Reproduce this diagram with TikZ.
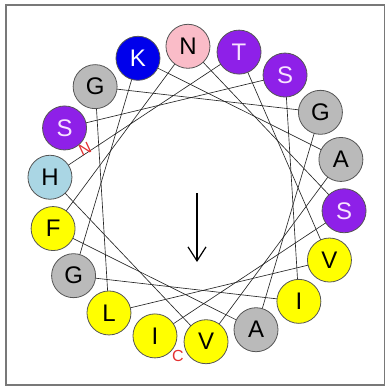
\documentclass[tikz,border=0pt]{standalone}
\usepackage{fontspec}
\setmainfont{Liberation Sans}
\usetikzlibrary{arrows.meta,backgrounds,calc}
\definecolor{respurple}{RGB}{142,32,232}
\definecolor{resblue}{RGB}{0,0,235}
\definecolor{respink}{RGB}{250,188,200}
\definecolor{reslightblue}{RGB}{170,214,228}
\definecolor{resyellow}{RGB}{255,255,0}
\definecolor{resgray}{RGB}{186,186,186}
\definecolor{rimgray}{RGB}{85,85,85}
\definecolor{framegray}{RGB}{120,120,120}
\definecolor{termred}{RGB}{228,48,48}
\definecolor{paletext}{RGB}{248,228,255}
\tikzset{
  x=1pt, y=1pt,
  residue/.style={circle, draw=rimgray, line width=0.8pt, minimum size=44pt,
    inner sep=0pt, font=\fontsize{24}{24}\selectfont},
  pur/.style={residue, fill=respurple, text=paletext},
  blu/.style={residue, fill=resblue, text=white},
  pnk/.style={residue, fill=respink, text=black},
  lbl/.style={residue, fill=reslightblue, text=black},
  yel/.style={residue, fill=resyellow, text=black},
  gry/.style={residue, fill=resgray, text=black},
  bond/.style={draw=black!85, line width=0.65pt},
  terminal/.style={text=termred, inner sep=0pt, font=\fontsize{16}{16}\selectfont},
  moment/.style={line width=1.2pt, -{Straight Barb[length=14pt,width=18pt]}}
}
\begin{document}
\begin{tikzpicture}
  \useasboundingbox (0,-387) rectangle (386,0);
  % outer frame
  \draw[framegray, line width=1.6pt] (6,-5) rectangle (384.5,-385);
  \coordinate (wheel) at (197,-194);
  % residues in sequence order, 100 degrees apart
  \foreach \i/\aa/\sty in {1/S/pur, 2/S/pur, 3/I/yel, 4/G/gry, 5/K/blu, 6/A/gry,
      7/V/yel, 8/H/lbl, 9/T/pur, 10/V/yel, 11/L/yel, 12/G/gry, 13/G/gry,
      14/A/gry, 15/F/yel, 16/N/pnk, 17/S/pur, 18/I/yel} {
    \pgfmathsetmacro\ang{-206.5-100*(\i-1)}
    \node[\sty] (r\i) at ($(wheel)+(\ang:148pt)$) {\aa};
  }
  % backbone connections
  \begin{pgfonlayer}{background}
    \foreach \i [evaluate=\i as \j using int(\i+1)] in {1,...,17}
      \draw[bond] (r\i.center) -- (r\j.center);
  \end{pgfonlayer}
  % termini labels
  \node[terminal, rotate=25] (nterm) at (85,-149) {N};
  \node[terminal] (cterm) at (178,-356) {C};
  % hydrophobic moment
  \coordinate (mstart) at (197,-193);
  \coordinate (mend) at (197,-262);
  \draw[moment] (mstart) -- (mend);
\end{tikzpicture}
\end{document}
